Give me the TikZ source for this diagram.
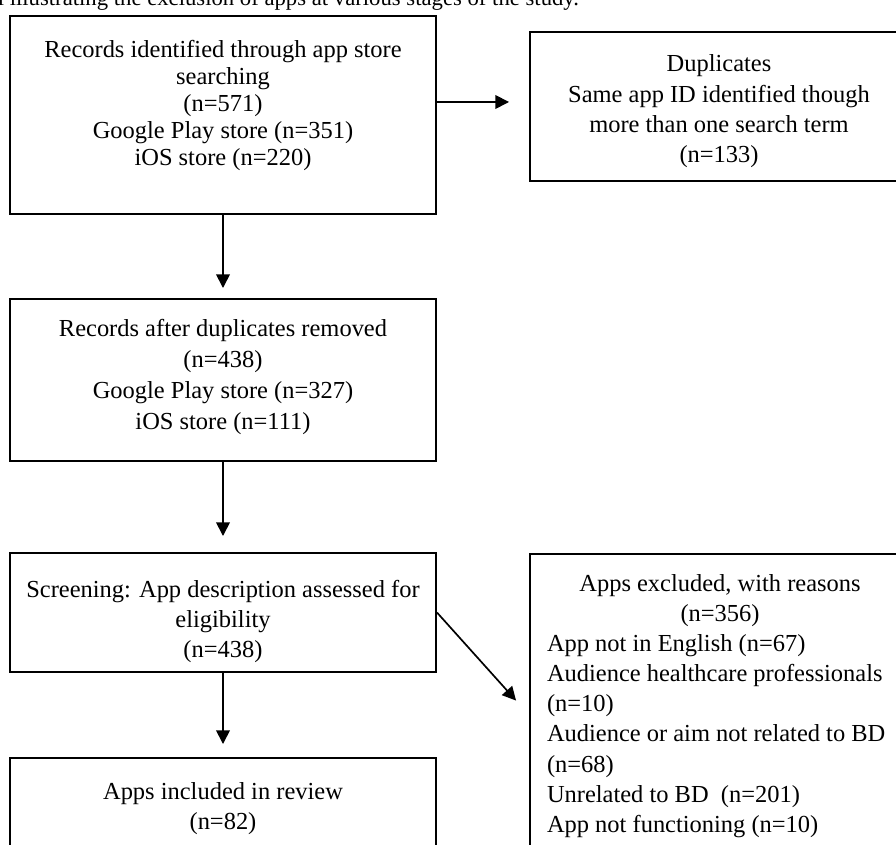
\documentclass[tikz,border=0pt]{standalone}
\usepackage{fontspec}
\setmainfont{Liberation Serif}
\usetikzlibrary{arrows.meta}

\begin{document}
\begin{tikzpicture}[font=\fontsize{17.4}{21.4}\selectfont, every node/.style={align=center}]
\tikzset{
  stagebox/.style={draw, line width=1.4pt, inner sep=0pt},
  stagetext/.style={align=center, inner sep=0pt},
  flow/.style={line width=1.2pt, -{Triangle[length=0.34cm, width=0.34cm]}}
}
\useasboundingbox (0,0) rectangle (22.4,21.1);

\node[font=\fontsize{16.15}{19}\selectfont, anchor=base west, inner sep=0pt] (caption) at (-0.0625,20.97)
  {l illustrating the exclusion of apps at various stages of the study.};

\node[stagebox, minimum width=10.65cm, minimum height=4.95cm] (records) at (5.575,18.225) {};
\node[stagetext, font=\fontsize{17.4}{19.2}\selectfont] (recordstext) at (5.575,18.47)
  {Records identified through app store\\searching\\(n=571)\\Google Play store (n=351)\\iOS store (n=220)};

\node[stagebox, minimum width=9.45cm, minimum height=3.725cm] (duplicates) at (17.975,18.4375) {};
\node[stagetext] (duplicatestext) at (17.975,18.32)
  {Duplicates\\Same app ID identified though\\more than one search term\\(n=133)};

\node[stagebox, minimum width=10.65cm, minimum height=4.05cm] (deduped) at (5.575,11.6) {};
\node[stagetext, font=\fontsize{17.4}{22}\selectfont] (dedupedtext) at (5.575,11.68)
  {Records after duplicates removed\\(n=438)\\Google Play store (n=327)\\iOS store (n=111)};

\node[stagebox, minimum width=10.65cm, minimum height=2.975cm] (screening) at (5.575,5.7875) {};
\node[stagetext] (screeningtext) at (5.575,5.57)
  {Screening: App description assessed for\\eligibility\\(n=438)};

\node[stagebox, minimum width=10.65cm, minimum height=3.0cm] (included) at (5.575,0.65) {};
\node[stagetext] (includedtext) at (5.575,0.88) {Apps included in review\\(n=82)};

\node[stagebox, minimum width=9.5cm, minimum height=7.65cm] (excluded) at (18.0,3.425) {};
\node[stagetext, align=left] (excludedtext) at (18.0,3.45)
  {\makebox[8.65cm]{Apps excluded, with reasons}\\\makebox[8.65cm]{(n=356)}\\
   App not in English (n=67)\\Audience healthcare professionals\\(n=10)\\
   Audience or aim not related to BD\\(n=68)\\Unrelated to BD\ \ (n=201)\\App not functioning (n=10)};

\draw[flow, shorten >=0.5cm] ([yshift=0.325cm]records.east) -- ([yshift=0.325cm]records.east -| duplicates.west);
\draw[flow, shorten >=0.25cm] (records.south) -- (deduped.north);
\draw[flow, shorten >=0.4cm] (deduped.south) -- (screening.north);
\draw[flow, shorten >=0.325cm] (screening.south) -- (included.north);
\draw[flow, shorten >=0.485cm] (screening.east) -- ([yshift=-0.2cm]excluded.west);
\end{tikzpicture}
\end{document}
